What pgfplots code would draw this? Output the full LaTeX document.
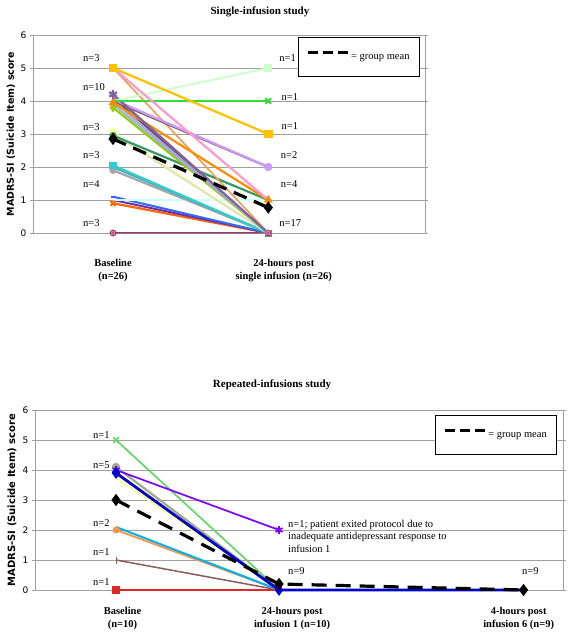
\documentclass[border=0pt]{standalone}
\usepackage{pgfplots}
\pgfplotsset{compat=1.18}
\usepackage{fontspec}
\setmainfont{Liberation Serif}
\newfontfamily\verd{DejaVu Sans}
\definecolor{cNavy}{HTML}{1F497D}
\definecolor{cMaroon}{HTML}{993366}
\definecolor{cOrRed}{HTML}{FF6600}
\definecolor{cPurp}{HTML}{7030A0}
\definecolor{cBlue}{HTML}{3366FF}
\definecolor{cLCyan}{HTML}{CCFFFF}
\definecolor{cGray}{HTML}{A6A6A6}
\definecolor{cTeal}{HTML}{4BACC6}
\definecolor{cCyan}{HTML}{33CCCC}
\definecolor{cLYel}{HTML}{FFFF99}
\definecolor{cPaleG}{HTML}{D7E4BD}
\definecolor{cDGreen}{HTML}{339966}
\definecolor{cYG}{HTML}{99CC00}
\definecolor{cSteel}{HTML}{8DB4E2}
\definecolor{cSlate}{HTML}{60497A}
\definecolor{cLPurp}{HTML}{B3A2C7}
\definecolor{cOrL}{HTML}{F79646}
\definecolor{cBrown}{HTML}{7F6060}
\definecolor{cLav}{HTML}{CC99FF}
\definecolor{cOrange}{HTML}{FF8C00}
\definecolor{cStar}{HTML}{8064A2}
\definecolor{cMint}{HTML}{CCFFCC}
\definecolor{cGreen}{HTML}{33DD33}
\definecolor{cPink}{HTML}{FF99CC}
\definecolor{cGold}{HTML}{FFC000}
% bottom
\definecolor{bRed}{HTML}{E02828}
\definecolor{bBrown}{HTML}{8B5A5A}
\definecolor{bOrange}{HTML}{F79646}
\definecolor{bCyan}{HTML}{00B0F0}
\definecolor{bYel}{HTML}{FFFF99}
\definecolor{bLBlue}{HTML}{99CCFF}
\definecolor{bGray}{HTML}{A0A890}
\definecolor{bGreen}{HTML}{5CD65C}
\definecolor{bPurp}{HTML}{7F00FF}
\definecolor{bBlue}{HTML}{0000CC}
\definecolor{gridg}{HTML}{A0A0A0}
\pgfplotsset{
  madrs/.style={
    scale only axis, ymin=0, ymax=6, ytick={0,...,6},
    ymajorgrids, grid style={color=gridg, line width=0.7pt},
    axis line style={gridg, line width=0.8pt},
    ytick style={gridg, line width=0.7pt}, tick align=outside, major tick length=3pt,
    xtick style={draw=none}, clip=false,
    /pgf/number format/assume math mode=true,
    yticklabel style={font=\verd\fontsize{9}{10}\selectfont},
    xticklabel style={align=center, font=\bfseries\fontsize{10.5}{12.5}\selectfont},
    ylabel={MADRS-SI (Suicide Item) score},
    every axis plot/.append style={line width=1.8pt, mark size=2.5pt, mark options={solid}},
    legend image code/.code={\draw[black, line width=3pt, dash pattern=on 10pt off 5pt] (0pt,4.5pt) -- (40pt,4.5pt);},
  },
  ind/.style={forget plot},
}
\begin{document}
\begin{tikzpicture}
\path[use as bounding box] (0,0) rectangle (570pt,635pt);
% ---------------- Top chart ----------------
\begin{axis}[madrs, at={(33pt,402pt)}, anchor=south west, width=392pt, height=198pt,
  xmin=-0.516, xmax=2.01,
  xtick={0,1.1}, xticklabels={{Baseline\\(n=26)},{24-hours post\\single infusion (n=26)}},
  xticklabel style={yshift=-20pt},
  title={Single-infusion study},
  title style={at={(0.579,1)}, anchor=center, yshift=17pt, font=\bfseries\fontsize{11}{13}\selectfont},
  ylabel style={at={(axis description cs:0,0.5)}, anchor=center, xshift=0pt, yshift=22pt, font=\verd\bfseries\fontsize{9.5}{11}\selectfont},
  legend style={at={(0.987,0.99)}, anchor=north east, draw=black, line width=0.8pt, fill=white,
    font=\fontsize{10.5}{12}\selectfont, inner xsep=8pt, inner ysep=14pt},
]
\addplot[ind, cNavy, line width=2.2pt] coordinates {(0,0) (1,0)};
\addplot[ind, cTeal] coordinates {(0,0) (1,0)};
\addplot[ind, cMaroon, mark=oplus*, mark size=3pt, mark options={fill=cPink, draw=cMaroon, line width=0.8pt}] coordinates {(0,0) (1,0)};
\addplot[ind, cOrRed, line width=2.2pt, mark=x, mark indices={1}, mark size=3.5pt] coordinates {(0,0.9) (1,0)};
\addplot[ind, cPurp, line width=2pt] coordinates {(0,1) (1,0)};
\addplot[ind, cBlue, line width=2pt, mark=-, mark indices={1}] coordinates {(0,1.1) (1,0)};
\addplot[ind, cLCyan] coordinates {(0,1) (1,1)};
\addplot[ind, cGray, line width=2.2pt, mark=*, mark indices={1}] coordinates {(0,1.9) (1,0)};
\addplot[ind, cTeal, line width=2.2pt] coordinates {(0,2) (1,0)};
\addplot[ind, cCyan, line width=2.2pt, mark=square*, mark indices={1}] coordinates {(0,2.05) (1,0)};
\addplot[ind, cLYel, line width=2.2pt, mark=*, mark indices={1}, mark size=3pt] coordinates {(0,3.05) (1,0)};
\addplot[ind, cPaleG] coordinates {(0,3) (1,0)};
\addplot[ind, cDGreen, line width=2.2pt, mark=*, mark indices={1}] coordinates {(0,2.95) (1,1)};
\addplot[ind, cYG, line width=2.2pt, mark=diamond*, mark indices={1}, mark size=3pt] coordinates {(0,3.8) (1,0)};
\addplot[ind, cSteel] coordinates {(0,3.9) (1,0)};
\addplot[ind, cSlate] coordinates {(0,4.1) (1,0)};
\addplot[ind, cLPurp] coordinates {(0,4) (1,0)};
\addplot[ind, cOrL, line width=1.5pt] coordinates {(0,5) (1,0)};
\addplot[ind, cBrown, line width=2.2pt] coordinates {(0,4) (1,2)};
\addplot[ind, cLav, line width=2.2pt, mark=*, mark indices={2}, mark size=3pt] coordinates {(0,4.05) (1,2)};
\addplot[ind, cOrange, line width=2.2pt, mark=triangle*, mark size=3pt] coordinates {(0,3.95) (1,1)};
\addplot[ind, cStar, line width=2.2pt, mark=asterisk, mark size=4.5pt, mark indices={1}] coordinates {(0,4.2) (1,0)};
\addplot[ind, cMint, mark=square*, mark size=3pt, mark indices={2}] coordinates {(0,4) (1,5)};
\addplot[ind, cGreen, mark=x, mark size=4pt, mark indices={2}] coordinates {(0,4) (1,4)};
\addplot[ind, cPink, line width=2.2pt] coordinates {(0,5) (1,1)};
\addplot[ind, cGold, line width=2.2pt, mark=square*, mark size=3.2pt] coordinates {(0,5) (1,3)};
\addplot[ind, gray, mark=square, mark size=3pt, mark indices={2}, line width=0.8pt] coordinates {(0,0) (1,0)};
\addplot[black, line width=3.2pt, dash pattern=on 14pt off 8pt, mark=diamond*, mark size=3.5pt, mark options={solid}] coordinates {(0,2.85) (1,0.77)};
\addlegendentry{= group mean}
\begin{scope}[every node/.style={font=\fontsize{10.5}{12}\selectfont, inner sep=0pt, anchor=west}]
\node at (axis cs:-0.194,5.3) {n=3};
\node at (axis cs:-0.194,4.42) {n=10};
\node at (axis cs:-0.194,3.2) {n=3};
\node at (axis cs:-0.194,2.36) {n=3};
\node at (axis cs:-0.194,1.48) {n=4};
\node at (axis cs:-0.194,0.3) {n=3};
\node at (axis cs:1.071,5.3) {n=1};
\node at (axis cs:1.085,4.12) {n=1};
\node at (axis cs:1.085,3.24) {n=1};
\node at (axis cs:1.08,2.36) {n=2};
\node at (axis cs:1.08,1.48) {n=4};
\node at (axis cs:1.071,0.3) {n=17};
\end{scope}
\end{axis}
% ---------------- Bottom chart ----------------
\begin{axis}[madrs, at={(35pt,45pt)}, anchor=south west, width=528pt, height=180pt,
  xmin=-0.497, xmax=2.742,
  xtick={0.04,1.08,2.47}, xticklabels={{Baseline\\(n=10)},{24-hours post\\infusion 1 (n=10)},{4-hours post\\infusion 6 (n=9)}},
  xticklabel style={yshift=-11pt},
  title={Repeated-infusions study},
  title style={at={(0.449,1)}, anchor=center, yshift=19pt, font=\bfseries\fontsize{11}{13}\selectfont},
  ylabel style={at={(axis description cs:0,0.5)}, anchor=center, xshift=0pt, yshift=23pt, font=\verd\bfseries\fontsize{10}{12}\selectfont},
  legend style={at={(0.989,0.972)}, anchor=north east, draw=black, line width=0.8pt, fill=white,
    font=\fontsize{10.5}{12}\selectfont, inner xsep=8pt, inner ysep=14pt},
  every axis plot/.append style={line width=1.5pt},
]
\addplot[ind, bRed, mark=square*, mark indices={1}, mark size=3pt] coordinates {(0,0) (1,0) (2.5,0)};
\addplot[ind, bBrown, mark=|, mark indices={1}, mark size=3.5pt, mark options={line width=0.8pt}] coordinates {(0,1) (1,0)};
\addplot[ind, bOrange, line width=1.8pt, mark=*, mark indices={1}] coordinates {(0,2) (1,0)};
\addplot[ind, bCyan, line width=2pt] coordinates {(0,2.1) (1,0)};
\addplot[ind, bYel, line width=2pt] coordinates {(0,3.75) (1,0)};
\addplot[ind, bLBlue, line width=2pt] coordinates {(0,3.9) (1,0)};
\addplot[ind, bGray, line width=2.2pt, mark=*, mark indices={1}, mark size=3pt] coordinates {(0,4.1) (1,0)};
\addplot[ind, bGreen, line width=1.6pt, mark=x, mark size=4pt, mark indices={1}] coordinates {(0,5) (1,0)};
\addplot[ind, bPurp, line width=1.7pt, mark=asterisk, mark size=4pt] coordinates {(0,4) (1,2)};
\addplot[ind, bBlue, line width=2.8pt, mark=diamond*, mark size=3.5pt, mark indices={1,2}] coordinates {(0,3.9) (1,0) (2.5,0)};
\addplot[black, line width=3.2pt, dash pattern=on 15pt off 9pt, mark=diamond*, mark size=3.5pt, mark options={solid}] coordinates {(0,3) (1,0.2) (2.5,0)};
\addlegendentry{= group mean}
\begin{scope}[every node/.style={font=\fontsize{10.5}{12}\selectfont, inner sep=0pt, anchor=west}]
\node at (axis cs:-0.141,5.17) {n=1};
\node at (axis cs:-0.141,4.17) {n=5};
\node at (axis cs:-0.141,2.23) {n=2};
\node at (axis cs:-0.141,1.27) {n=1};
\node at (axis cs:-0.141,0.27) {n=1};
\node at (axis cs:1.055,0.63) {n=9};
\node at (axis cs:2.49,0.63) {n=9};
\node[anchor=north west, align=left, font=\fontsize{10.5}{12.5}\selectfont] at (axis cs:1.055,2.34) {n=1; patient exited protocol due to\\inadequate antidepressant response to\\infusion 1};
\end{scope}
\end{axis}
\end{tikzpicture}
\end{document}
